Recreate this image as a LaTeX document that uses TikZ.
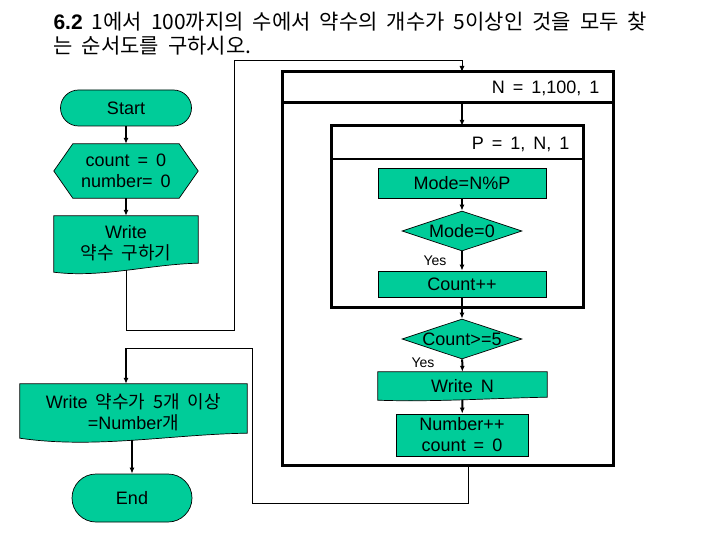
\documentclass[tikz,border=0pt]{standalone}
\usepackage{fontspec}
\setmainfont{Liberation Sans}
\newfontfamily\kr{Noto Sans CJK KR}
\usetikzlibrary{arrows.meta,backgrounds,shapes.geometric}
\definecolor{flowgreen}{RGB}{0,204,153}
\newcommand\flowfont{\fontsize{18}{21}\selectfont\spaceskip=8pt\relax}
\newcommand\titlefont{\fontsize{21}{25}\selectfont\spaceskip=9pt\relax}
\tikzset{
  every node/.style={font=\flowfont},
  greenbox/.style={draw=black,line width=0.7pt,fill=flowgreen,inner sep=0pt,align=center},
  greenshape/.style={draw=black,line width=0.7pt,fill=flowgreen},
  shapetext/.style={inner sep=0pt,align=center},
  decision/.style={diamond,draw=black,line width=0.7pt,fill=flowgreen,minimum width=120pt,minimum height=40pt,inner sep=0pt},
  loopbox/.style={draw=black,line width=3pt,inner sep=0pt,outer sep=0pt},
  loopline/.style={line width=3pt},
  yeslabel/.style={font=\fontsize{14}{16}\selectfont,inner sep=0pt},
  thinline/.style={line width=1pt},
  flowarrow/.style={line width=2pt,-{Latex[length=6pt,width=5pt]}}
}

\begin{document}
\begin{tikzpicture}[x=1pt,y=-1pt]
\useasboundingbox (0,0) rectangle (720,540);
% Title
\node[anchor=west,font=\titlefont] (title1) at (50,22) {\textbf{6.2} {\kr 1에서 100까지의 수에서 약수의 개수가 5이상인 것을 모두 찾}};
\node[anchor=west,font=\titlefont] (title2) at (50,46) {{\kr 는 순서도를 구하시오.}};

% Left column
\node[greenbox,rounded corners=18pt,minimum width=131pt,minimum height=36pt] (start) at (126,108) {Start};
\node[shapetext,minimum width=144pt,minimum height=54pt] (init) at (126,171) {count = 0\\number= 0};
\node[shapetext,minimum width=144pt,minimum height=54pt] (ask) at (126,243) {Write\\{\kr 약수 구하기}};
\node[shapetext,minimum width=227pt,minimum height=56pt] (result) at (133.5,412) {Write {\kr 약수가 5개 이상}\\=Number{\kr 개}};
\node[greenbox,rounded corners=24pt,minimum width=120pt,minimum height=48pt] (end) at (132,498) {End};

% Right column: the two loops
\node[loopbox,minimum width=331pt,minimum height=393pt] (nloop) at (447.5,268.5) {};
\coordinate (nsep) at ([yshift=-31pt]nloop.north);
\draw[loopline] (nsep -| nloop.west) -- (nsep -| nloop.east);
\node[anchor=east] (nhead) at (603,88) {N = 1,100, 1};
\node[loopbox,minimum width=252pt,minimum height=181pt] (ploop) at (457,216.5) {};
\coordinate (psep) at ([yshift=-33pt]ploop.north);
\draw[line width=2.5pt] (psep -| ploop.west) -- (psep -| ploop.east);
\node[anchor=east] (phead) at (573,144) {P = 1, N, 1};

% Right column: steps
\node[greenbox,minimum width=168pt,minimum height=30pt] (mode) at (462,183) {Mode=N\%P};
\node[decision,label={center:{Mode=0}}] (modez) at (462,231) {};
\node[yeslabel] (yes1) at (435,261) {Yes};
\node[greenbox,minimum width=168pt,minimum height=26pt] (countpp) at (462,284) {Count++};
\node[decision,label={center:{Count>=5}}] (countge) at (462,339) {};
\node[yeslabel] (yes2) at (423,363) {Yes};
\node[shapetext,minimum width=169pt,minimum height=28pt] (writen) at (462.5,386) {Write N};
\node[greenbox,minimum width=132pt,minimum height=42pt] (numpp) at (462,435) {Number++\\count = 0};

% Shapes drawn behind their texts
\begin{scope}[on background layer]
\draw[greenshape] ([xshift=19pt]init.north west) -- ([xshift=-19pt]init.north east) -- (init.east)
  -- ([xshift=-19pt]init.south east) -- ([xshift=19pt]init.south west) -- (init.west) -- cycle;
\draw[greenshape] (ask.north west) -- (ask.north east) -- ([yshift=7pt]ask.south east)
  .. controls ([xshift=-48pt,yshift=6pt]ask.south east) and ([xshift=48pt,yshift=-8pt]ask.south west) .. ([yshift=-2pt]ask.south west) -- cycle;
\draw[greenshape] (result.north west) -- (result.north east) -- ([yshift=7pt]result.south east)
  .. controls ([xshift=-75pt,yshift=6pt]result.south east) and ([xshift=75pt,yshift=-9pt]result.south west) .. ([yshift=2pt]result.south west) -- cycle;
\draw[greenshape] (writen.north west) -- (writen.north east) -- ([yshift=3pt]writen.south east)
  .. controls ([xshift=-56pt,yshift=2pt]writen.south east) and ([xshift=56pt,yshift=-2pt]writen.south west) .. (writen.south west) -- cycle;
\end{scope}

% Connectors
\coordinate (loopin) at (234,330);
\coordinate (looptop) at (234,61);
\coordinate (loopout) at (468,503);
\coordinate (backtop) at (252,348);
\draw[flowarrow] (start) -- (init);
\draw[flowarrow] (init.south) -- (ask.north);
\draw[thinline,-{Latex[length=6pt,width=5pt]}] (ask.south) -- (ask.south |- loopin) -- (loopin) -- (looptop) -| (mode |- nloop.north);
\draw[flowarrow] (nsep -| mode) -- (mode |- ploop.north);
\draw[flowarrow] (mode) -- (modez);
\draw[flowarrow] (modez) -- (countpp);
\draw[line width=2pt] (countpp.south) -- (countpp |- ploop.south);
\draw[flowarrow] (countpp |- ploop.south) -- (countge.north);
\draw[flowarrow] (countge) -- (writen);
\draw[flowarrow] (writen) -- (numpp);
\draw[thinline] (loopout |- nloop.south) -- (loopout) -| (backtop) -- (backtop -| init);
\draw[flowarrow] (backtop -| init) -- (init |- result.north);
\draw[flowarrow] (result.south -| end) -- (end.north);
\end{tikzpicture}
\end{document}
